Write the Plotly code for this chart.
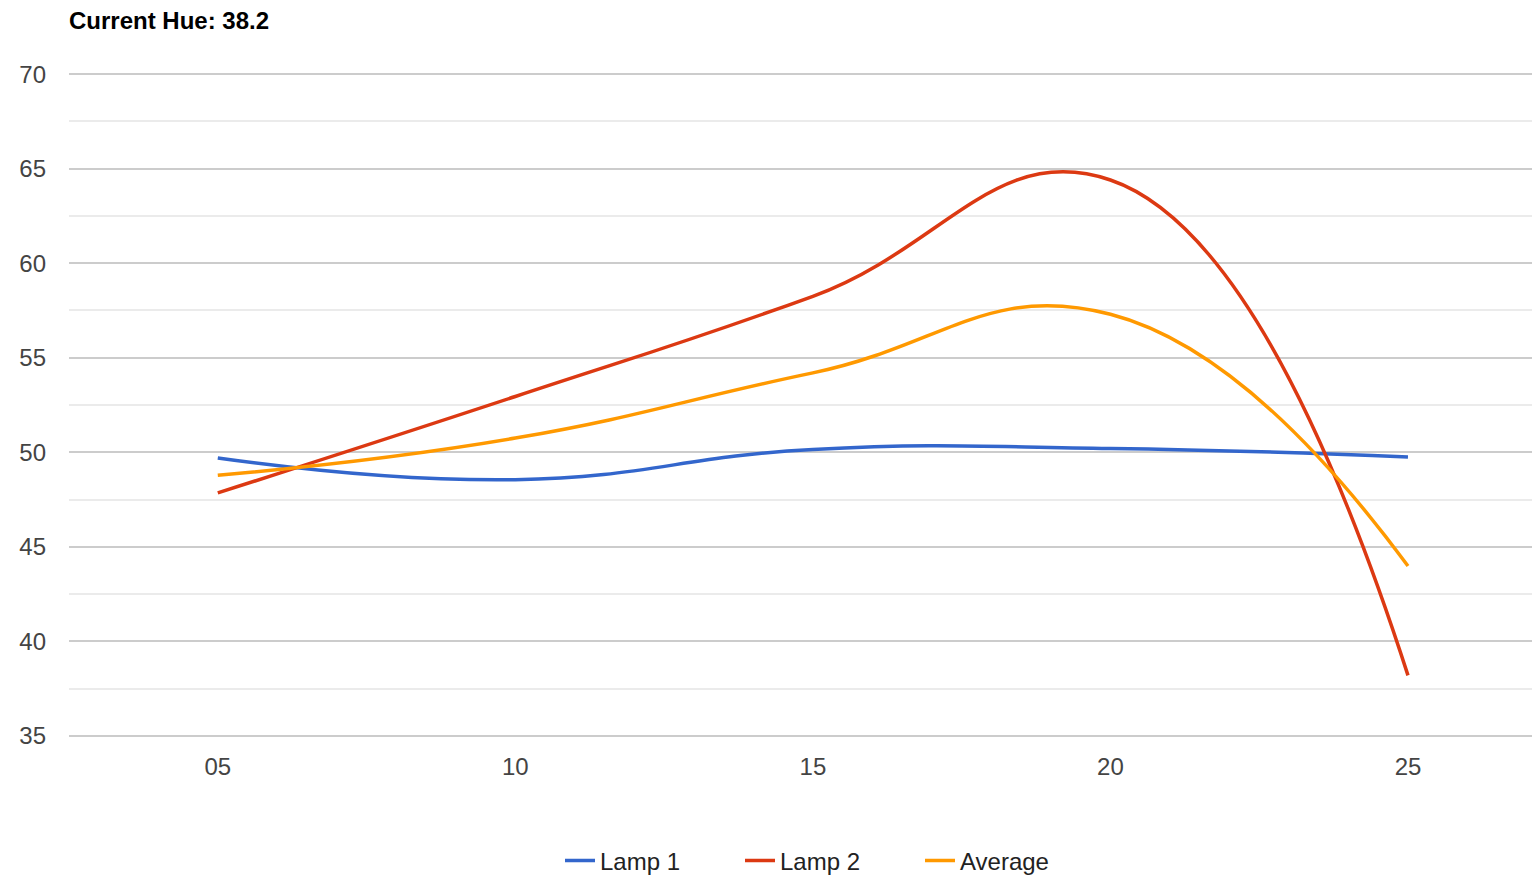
import plotly.graph_objects as go

categories = ["05", "10", "15", "20", "25"]
lamp1 = [49.7, 48.55, 50.15, 50.2, 49.75]
lamp2 = [47.85, 52.95, 58.25, 64.4, 38.2]
average = [48.78, 50.75, 54.2, 57.3, 43.98]
y_ticks = [35, 40, 45, 50, 55, 60, 65, 70]

FONT = "Arial, Liberation Sans, sans-serif"

# page body has an 8px margin, so the figure is sized/offset to compensate
W, H = 1532, 868
fig = go.Figure()
for name, vals, color in [("Lamp 1", lamp1, "#3366cc"),
                          ("Lamp 2", lamp2, "#dc3912"),
                          ("Average", average, "#ff9900")]:
    fig.add_trace(go.Scatter(
        x=categories, y=vals, name=name, mode="lines",
        line=dict(color=color, width=3.5, shape="spline", smoothing=1.3),
    ))

fig.update_layout(
    width=W, height=H,
    margin=dict(l=61, r=0, t=65, b=139, autoexpand=False),
    paper_bgcolor="white", plot_bgcolor="white",
    font=dict(family=FONT, size=24, color="#444"),
    title=dict(text=f"<b>Current Hue: {lamp2[-1]}</b>", x=61 / W, xanchor="left",
               xref="container", y=1 - 13 / H, yanchor="middle", yref="container",
               font=dict(family=FONT, size=24, color="#000")),
    legend=dict(orientation="h", x=(830 - 69) / 1471, xanchor="center",
                y=(737 - 861) / 664, yanchor="middle",
                font=dict(family=FONT, size=24, color="#222"),
                entrywidth=135, tracegroupgap=0),
    showlegend=True,
)
fig.update_xaxes(type="category", range=[-0.5, (1540 - 218) / 297.5],
                 showgrid=False, zeroline=False, showline=False,
                 ticks="", ticklabelstandoff=13, tickfont=dict(color="#444"))
fig.update_yaxes(range=[34.94, 70.06], tickvals=y_ticks, showgrid=True,
                 gridcolor="#cccccc", gridwidth=1.5, zeroline=False,
                 showline=False, ticks="", ticklabelstandoff=22,
                 minor=dict(dtick=2.5, tick0=35, showgrid=True, gridcolor="#ebebeb", gridwidth=1.5))

fig.write_html("out.html")
